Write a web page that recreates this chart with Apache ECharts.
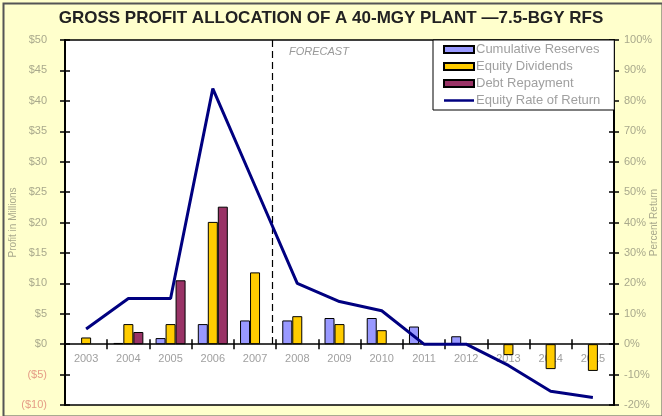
<!DOCTYPE html>
<html>
<head>
<meta charset="utf-8">
<script src="https://cdn.jsdelivr.net/npm/echarts@6/dist/echarts.min.js"></script>
<style>
html,body{margin:0;padding:0;background:#FFFFCC;}
#chart{width:662px;height:416px;}
</style>
</head>
<body>
<div id="chart"></div>
<script>
const years = ['2003','2004','2005','2006','2007','2008','2009','2010','2011','2012','2013','2014','2015'];
const cumulativeReserves = [null, 0.2, 1.0, 3.3, 3.9, 3.9, 4.3, 4.3, 2.9, 1.3, null, null, null];
const equityDividends   = [1.1, 3.3, 3.3, 20.1, 11.8, 4.6, 3.3, 2.3, null, null, -1.8, -4.1, -4.4];
const debtRepayment     = [null, 2.0, 10.5, 22.6, null, null, null, null, null, null, null, null, null];
const equityReturn      = [5, 15, 15, 84, 52, 20, 14, 11, 0, 0, -7, -15.5, -17.5];
const forecastBoundary = 4.9; // in category units from left edge
const leftTicks = {min: -10, max: 50, interval: 5};
const rightTicks = {min: -20, max: 100, interval: 10};

const chart = echarts.init(document.getElementById('chart'));
const FONT = 'Liberation Sans';
const labelGrey = '#a9a98c';
const GRID = {left: 65, right: 48, top: 40, bottom: 11};

function moneyFmt(v){ return v < 0 ? '($' + (-v) + ')' : '$' + v; }

chart.setOption({
  backgroundColor: '#FFFFCC',
  animation: false,
  textStyle: {fontFamily: FONT},
  title: {
    text: 'GROSS PROFIT ALLOCATION OF A 40-MGY PLANT \u20147.5-BGY RFS',
    left: 'center', top: 5,
    textStyle: {fontSize: 17, fontWeight: 'bold', color: '#222', fontFamily: FONT}
  },
  graphic: [
    {type: 'rect', left: 1, top: 1, shape: {width: 659, height: 413}, style: {fill: 'none', stroke: '#555', lineWidth: 2}, silent: true, z: 100},
    {type: 'text', left: 289, top: 46, style: {text: 'FORECAST', font: 'italic 11px "Liberation Sans"', fill: '#999'}}
  ],
  legend: {
    orient: 'vertical', left: 433, top: 40,
    backgroundColor: '#fff', borderColor: '#000', borderWidth: 1,
    padding: [3, 14, 3, 10],
    itemWidth: 30, itemHeight: 7, itemGap: 4,
    textStyle: {fontSize: 13, color: '#a0a0a0', lineHeight: 13, fontFamily: FONT, padding: [0, 0, 0, -3]},
    data: [
      {name: 'Cumulative Reserves', icon: 'rect'},
      {name: 'Equity Dividends', icon: 'rect'},
      {name: 'Debt Repayment', icon: 'rect'},
      {name: 'Equity Rate of Return', icon: 'path://M0,0H30V2.5H0Z'}
    ]
  },
  grid: Object.assign({outerBoundsMode: 'none', containLabel: false,
         show: true, backgroundColor: '#fff', borderColor: '#000', borderWidth: 1.5}, GRID),
  xAxis: [
    {type: 'category', data: years, boundaryGap: true, position: 'bottom',
     axisLine: {onZero: false, lineStyle: {color: '#000', width: 1.5}},
     axisTick: {show: true, interval: 0, length: 5, lineStyle: {color: '#000', width: 1.5}},
     axisLabel: {color: '#a0a0a0', fontSize: 11, margin: 9, interval: 0},
     splitLine: {show: false}},
    {type: 'value', min: 0, max: years.length, show: false},
    {type: 'category', data: years, boundaryGap: true, position: 'bottom',
     axisLine: {show: false, onZero: false},
     axisTick: {show: true, inside: true, interval: 0, length: 5, lineStyle: {color: '#000', width: 1.5}},
     axisLabel: {show: false}, splitLine: {show: false}}
  ],
  yAxis: [
    {type: 'value', position: 'left', min: leftTicks.min, max: leftTicks.max, interval: leftTicks.interval,
     name: 'Profit in Millions', nameLocation: 'middle', nameGap: 47, nameRotate: 90, nameMoveOverlap: false,
     nameTextStyle: {color: labelGrey, fontSize: 10},
     axisLine: {show: true, onZero: false, lineStyle: {color: '#000', width: 2}},
     axisTick: {show: true, length: 5, lineStyle: {color: '#000', width: 1.5}},
     axisLabel: {fontSize: 11, margin: 18, formatter: moneyFmt,
                 color: function(v){ return v < 0 ? '#e59c86' : labelGrey; }},
     splitLine: {show: false}},
    {type: 'value', position: 'right', min: rightTicks.min, max: rightTicks.max, interval: rightTicks.interval,
     name: 'Percent Return', nameLocation: 'middle', nameGap: 35, nameRotate: 90, nameMoveOverlap: false,
     nameTextStyle: {color: labelGrey, fontSize: 10},
     axisLine: {show: true, onZero: false, lineStyle: {color: '#000', width: 2}},
     axisTick: {show: true, length: 5, lineStyle: {color: '#000', width: 1.5}},
     axisLabel: {fontSize: 11, margin: 10, formatter: '{value}%', color: labelGrey},
     splitLine: {show: false}},
    {type: 'value', position: 'left', min: leftTicks.min, max: leftTicks.max, interval: leftTicks.interval,
     axisLine: {show: false, onZero: false}, axisLabel: {show: false}, splitLine: {show: false},
     axisTick: {show: true, inside: true, length: 5, lineStyle: {color: '#000', width: 1.5}}},
    {type: 'value', position: 'right', min: rightTicks.min, max: rightTicks.max, interval: rightTicks.interval,
     axisLine: {show: false, onZero: false}, axisLabel: {show: false}, splitLine: {show: false},
     axisTick: {show: true, inside: true, length: 5, lineStyle: {color: '#000', width: 1.5}}}
  ],
  series: [
    {name: 'Cumulative Reserves', type: 'bar', data: cumulativeReserves, barWidth: 10, barGap: '0%',
     itemStyle: {color: '#9999ff', borderColor: '#000', borderWidth: 1}},
    {name: 'Equity Dividends', type: 'bar', data: equityDividends, barWidth: 10, barGap: '0%',
     itemStyle: {color: '#ffcc00', borderColor: '#000', borderWidth: 1}},
    {name: 'Debt Repayment', type: 'bar', data: debtRepayment, barWidth: 10, barGap: '0%',
     itemStyle: {color: '#993366', borderColor: '#000', borderWidth: 1}},
    {name: 'Equity Rate of Return', type: 'line', yAxisIndex: 1, data: equityReturn,
     symbol: 'none', lineStyle: {color: '#000080', width: 3}, itemStyle: {color: '#000080'}, z: 5},
    {name: 'forecast', type: 'line', xAxisIndex: 1, yAxisIndex: 0, data: [],
     markLine: {silent: true, symbol: 'none', label: {show: false},
       lineStyle: {color: '#000', type: [7, 4], width: 1.2},
       data: [[{coord: [forecastBoundary, leftTicks.max]}, {coord: [forecastBoundary, 0]}]]}}
  ]
});

// Place the category axis on the $0 level, using the library's own scale.
const zeroPx = chart.convertToPixel({yAxisIndex: 0}, 0);
const bottomPx = 416 - GRID.bottom;
const off = -(bottomPx - zeroPx);
chart.setOption({xAxis: [{offset: off}, {}, {offset: off}]});
</script>
</body>
</html>
